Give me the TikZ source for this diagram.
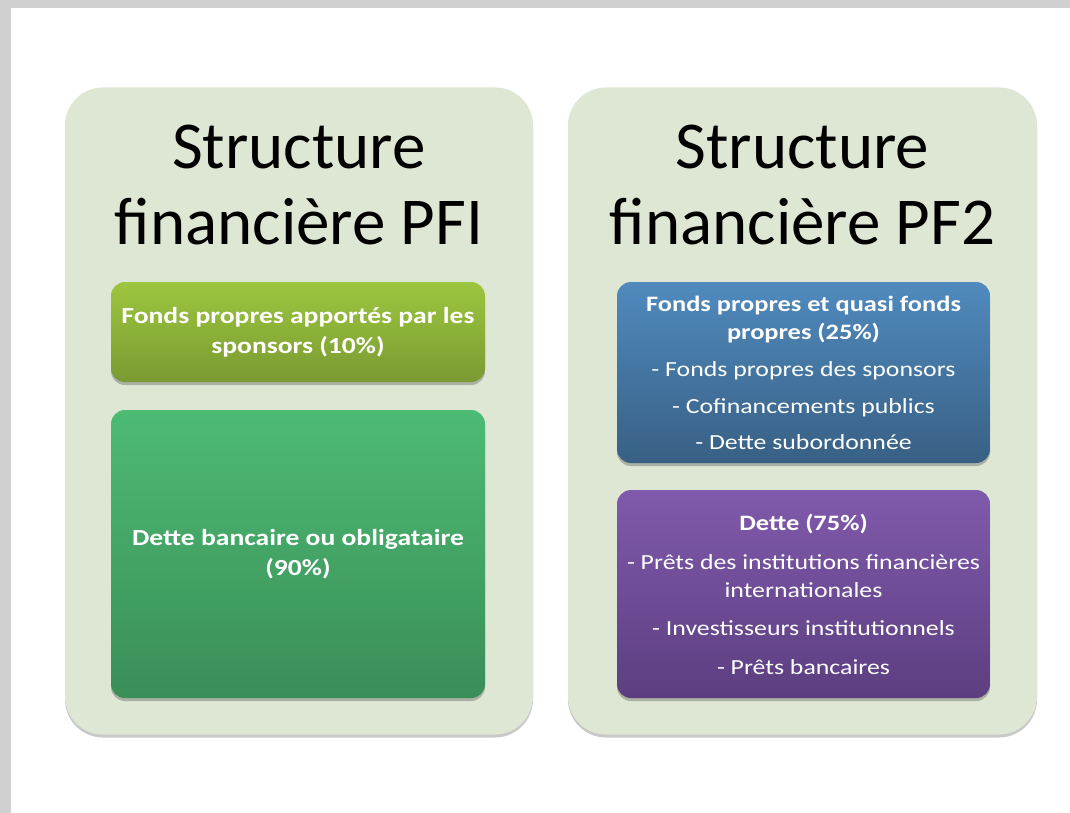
\documentclass[tikz,border=0pt]{standalone}
\usepackage{fontspec}
\setmainfont{Carlito}
\newfontfamily\cardfont[FakeStretch=1.2]{Carlito}
\usetikzlibrary{shadows}
\definecolor{frame}{RGB}{208,208,208}
\definecolor{panel}{RGB}{221,231,211}
\definecolor{olivetop}{RGB}{157,198,63}
\definecolor{olivebot}{RGB}{122,154,50}
\definecolor{greentop}{RGB}{77,187,115}
\definecolor{greenbot}{RGB}{58,142,88}
\definecolor{bluetop}{RGB}{80,138,190}
\definecolor{bluebot}{RGB}{56,96,132}
\definecolor{purptop}{RGB}{128,90,172}
\definecolor{purpbot}{RGB}{92,62,128}
\tikzset{
  panelbox/.style={rectangle, rounded corners=38pt, fill=panel, minimum width=468pt, minimum height=647pt,
    drop shadow={shadow xshift=0pt, shadow yshift=-3pt, opacity=0.35, fill=black!60}},
  title/.style={font=\fontsize{67}{76}\selectfont, text=black, align=center},
  cardbox/.style={rectangle, rounded corners=14pt, minimum width=374pt, align=center, text=white,
    drop shadow={shadow xshift=0pt, shadow yshift=-3pt, opacity=0.35, fill=black!70}},
  head/.style={font=\cardfont\bfseries\fontsize{23}{30}\selectfont},
  item/.style={font=\cardfont\fontsize{21.5}{28}\selectfont}
}
\begin{document}
\begin{tikzpicture}[x=1pt,y=-1pt]
  % page and its grey margins
  \useasboundingbox (0,0) rectangle (1070,813);
  \fill[white] (0,0) rectangle (1070,813);
  \fill[frame] (0,0) rectangle (1070,8);
  \fill[frame] (0,0) rectangle (11,813);

  % left column: PFI
  \node[panelbox] (pfi) at (299,411) {};
  \node[title] (pfititle) at (299,185) {Structure\\financière PFI};
  \node[cardbox, top color=olivetop, bottom color=olivebot, minimum height=100pt, head]
    (equity) at (298,332) {Fonds propres apportés par les\\sponsors (10\%)};
  \node[cardbox, top color=greentop, bottom color=greenbot, minimum height=288pt, head]
    (debt) at (298,554) {Dette bancaire ou obligataire\\(90\%)};

  % right column: PF2
  \node[panelbox, minimum width=469pt] (pf) at (802.5,411) {};
  \node[title] (pftitle) at (802.5,185) {Structure\\financière PF2};
  \node[cardbox, top color=bluetop, bottom color=bluebot, minimum width=373pt, minimum height=181pt, item]
    (quasi) at (803.5,372.5)
    {{\fontsize{22}{29}\selectfont\bfseries Fonds propres et quasi fonds}\\
     {\fontsize{22}{29}\selectfont\bfseries propres (25\%)}\\[9pt]
     - Fonds propres des sponsors\\[9pt]
     - Cofinancements publics\\[8pt]
     - Dette subordonnée};
  \node[cardbox, top color=purptop, bottom color=purpbot, minimum width=373pt, minimum height=208pt, item]
    (loans) at (803.5,594)
    {{\fontsize{22}{29}\selectfont\bfseries Dette (75\%)}\\[11pt]
     - Prêts des institutions financières\\internationales\\[10pt]
     - Investisseurs institutionnels\\[11pt]
     - Prêts bancaires};
\end{tikzpicture}
\end{document}
